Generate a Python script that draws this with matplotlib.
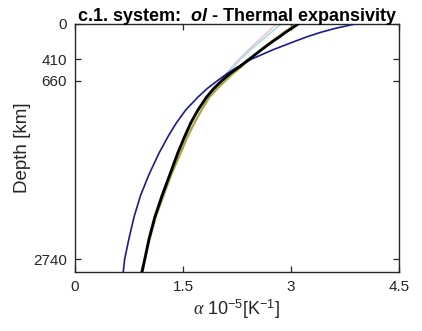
import matplotlib
matplotlib.use("Agg")
import matplotlib.pyplot as plt

plt.rcParams["font.family"] = ["Liberation Sans", "DejaVu Sans"]
plt.rcParams["mathtext.fontset"] = "custom"
plt.rcParams["mathtext.rm"] = "Liberation Sans"
plt.rcParams["mathtext.it"] = "Liberation Serif:italic"
plt.rcParams["mathtext.bf"] = "Liberation Sans:bold"
plt.rcParams["mathtext.bfit"] = "Liberation Sans:italic:bold"

# depth [km] and thermal expansivity alpha [1e-5 K^-1]
depth = [0, 50, 100, 150, 200, 300, 410, 500, 580, 660, 750, 850, 1000, 1150, 1300,
         1500, 1750, 2000, 2250, 2500, 2740, 2891]
alpha_pink = [2.80, 2.73, 2.67, 2.60, 2.54, 2.41, 2.28, 2.18, 2.10, 2.03, 1.92, 1.82, 1.70,
              1.60, 1.52, 1.42, 1.31, 1.20, 1.10, 1.02, 0.96, 0.92]
alpha_cyan = [2.86, 2.79, 2.72, 2.65, 2.58, 2.44, 2.30, 2.20, 2.11, 2.03, 1.92, 1.82, 1.70,
              1.60, 1.52, 1.42, 1.31, 1.20, 1.10, 1.02, 0.96, 0.92]
alpha_olive = [3.08, 2.99, 2.90, 2.82, 2.74, 2.58, 2.43, 2.31, 2.19, 2.09, 1.98, 1.87, 1.76,
               1.66, 1.57, 1.47, 1.34, 1.23, 1.12, 1.04, 0.97, 0.94]
alpha_black = [3.10, 3.01, 2.92, 2.84, 2.75, 2.59, 2.42, 2.28, 2.15, 2.04, 1.93, 1.83, 1.71,
               1.61, 1.53, 1.43, 1.32, 1.21, 1.11, 1.03, 0.97, 0.93]
alpha_blue = [3.89, 3.62, 3.40, 3.22, 3.06, 2.75, 2.45, 2.26, 2.11, 1.98, 1.84, 1.71, 1.54,
              1.41, 1.30, 1.17, 1.03, 0.91, 0.82, 0.75, 0.69, 0.67]

yticks = [0, 410, 660, 2740]
xticks = [0, 1.5, 3, 4.5]
xtick_labels = ["0", "1.5", "3", "4.5"]

fig = plt.figure(figsize=(4.22, 3.31), dpi=100)
ax = fig.add_axes([0.1777, 0.1782, 0.7678, 0.7493])

ax.plot(alpha_pink, depth, color="#f2c4d2", lw=1.2, zorder=2)
ax.plot(alpha_cyan, depth, color="#a9dbe8", lw=1.2, zorder=2)
ax.plot(alpha_olive, depth, color="#a8a83a", lw=1.6, zorder=3)
ax.plot(alpha_blue, depth, color="#1c1c8a", lw=1.2, zorder=4)
ax.plot(alpha_black, depth, color="black", lw=2.0, zorder=5)

ax.set_xlim(0, 4.5)
ax.set_ylim(2891, 0)
ax.set_xticks(xticks)
ax.set_xticklabels(xtick_labels)
ax.set_yticks(yticks)
ax.tick_params(direction="in", length=4, width=0.9, top=True, right=True,
               labelsize=11, colors="#262626", pad=6)
for s in ax.spines.values():
    s.set_color("#262626")
    s.set_linewidth(1.0)

ax.set_ylabel("Depth [km]", fontsize=13.5, color="#262626", labelpad=1)
ax.set_xlabel(r"$\alpha$ 10$^{-5}$[K$^{-1}$]", fontsize=13, color="#262626", labelpad=2)
ax.set_title(r"c.1. system:  $\mathbfit{ol}$ - Thermal expansivity",
             fontsize=13, fontweight="bold", pad=2)

fig.savefig("out.png", dpi=100)
